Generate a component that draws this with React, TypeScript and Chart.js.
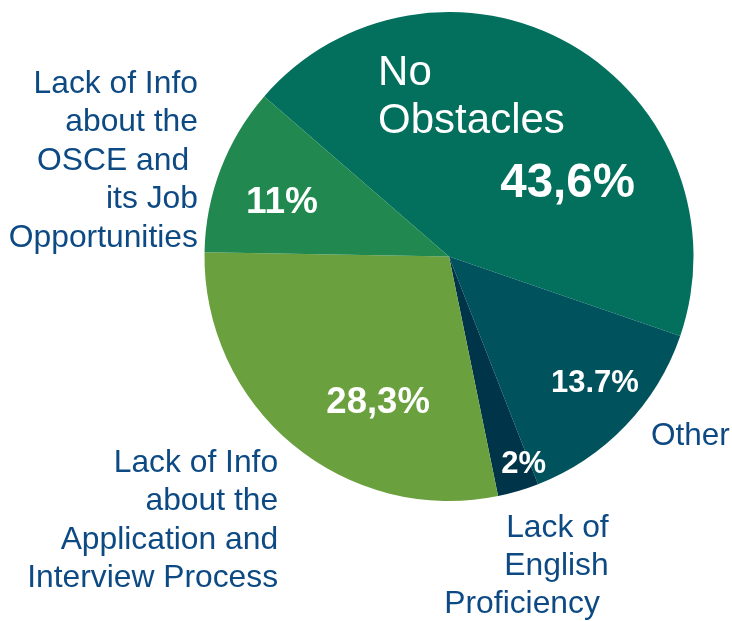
import React, { useEffect, useRef } from "react";
import { Chart, registerables } from "chart.js";

Chart.register(...registerables);

// ---- data ----
const categories = [
  "No Obstacles",
  "Other",
  "Lack of English Proficiency",
  "Lack of Info about the Application and Interview Process",
  "Lack of Info about the OSCE and its Job Opportunities",
];
const sliceValues = [43.6, 13.7, 2.7, 28.3, 11];
const valueLabels = ["43,6%", "13.7%", "2%", "28,3%", "11%"];
const nameLabels: string[][] = [
  ["No", "Obstacles"],
  ["Other"],
  ["Lack of", "English", "Proficiency "],
  ["Lack of Info", "about the", "Application and", "Interview Process"],
  ["Lack of Info", "about the", "OSCE and ", "its Job", "Opportunities"],
];

// ---- styles ----
const sliceColors = ["#02705D", "#00535C", "#003448", "#6AA03E", "#21894F"];
const TEXT_BLUE = "#0d4a84";
const FONT = "'Liberation Sans', Arial, sans-serif";

// label placement, in units of the pie radius relative to the pie centre
type Place = { fx: number; fy: number; align: CanvasTextAlign; size: number; bold: boolean; color: string; lh: number };
const valuePlace: Place[] = [
  { fx: 0.485, fy: -0.243, align: "center", size: 47.5, bold: true, color: "#fff", lh: 0 },
  { fx: 0.597, fy: 0.554, align: "center", size: 31, bold: true, color: "#fff", lh: 0 },
  { fx: 0.305, fy: 0.885, align: "center", size: 31, bold: true, color: "#fff", lh: 0 },
  { fx: -0.29, fy: 0.64, align: "center", size: 36.5, bold: true, color: "#fff", lh: 0 },
  { fx: -0.683, fy: -0.178, align: "center", size: 37, bold: true, color: "#fff", lh: 0 },
];
const namePlace: Place[] = [
  { fx: -0.29, fy: -0.701, align: "left", size: 42, bold: false, color: "#fff", lh: 48 },
  { fx: 0.826, fy: 0.771, align: "left", size: 31.5, bold: false, color: TEXT_BLUE, lh: 38 },
  { fx: 0.653, fy: 1.147, align: "right", size: 31.8, bold: false, color: TEXT_BLUE, lh: 38 },
  { fx: -0.699, fy: 0.881, align: "right", size: 31.8, bold: false, color: TEXT_BLUE, lh: 38.3 },
  { fx: -1.027, fy: -0.669, align: "right", size: 31.8, bold: false, color: TEXT_BLUE, lh: 38.5 },
];

const labelPlugin = {
  id: "sliceLabels",
  afterDatasetsDraw(chart: any) {
    const ctx = chart.ctx as CanvasRenderingContext2D;
    const meta = chart.getDatasetMeta(0);
    meta.data.forEach((arc: any, i: number) => {
      const { x, y, outerRadius } = arc.getProps(["x", "y", "outerRadius"], true);
      const draw = (lines: string[], p: Place) => {
        ctx.save();
        ctx.font = `${p.bold ? "bold " : ""}${p.size}px ${FONT}`;
        ctx.fillStyle = p.color;
        ctx.textAlign = p.align;
        ctx.textBaseline = "alphabetic";
        lines.forEach((ln, k) => {
          ctx.fillText(ln, x + p.fx * outerRadius, y + p.fy * outerRadius + k * p.lh);
        });
        ctx.restore();
      };
      draw([valueLabels[i]], valuePlace[i]);
      draw(nameLabels[i], namePlace[i]);
    });
  },
};

export default function App() {
  const ref = useRef<HTMLCanvasElement | null>(null);
  useEffect(() => {
    if (!ref.current) return;
    const chart = new Chart(ref.current, {
      type: "pie",
      data: {
        labels: categories,
        datasets: [
          {
            data: sliceValues,
            backgroundColor: sliceColors,
            borderWidth: 0,
          },
        ],
      },
      options: {
        responsive: false,
        animation: false,
        rotation: -49.1,
        layout: { padding: { left: 204.5, right: 38.5, top: 12, bottom: 120 } },
        plugins: {
          legend: { display: false },
          tooltip: { enabled: false },
        },
      },
      plugins: [labelPlugin],
    });
    return () => chart.destroy();
  }, []);
  return (
    <div style={{ position: "absolute", left: 0, top: 0, width: 732, height: 621, background: "#fff" }}>
      <canvas ref={ref} width={732} height={621} />
    </div>
  );
}
